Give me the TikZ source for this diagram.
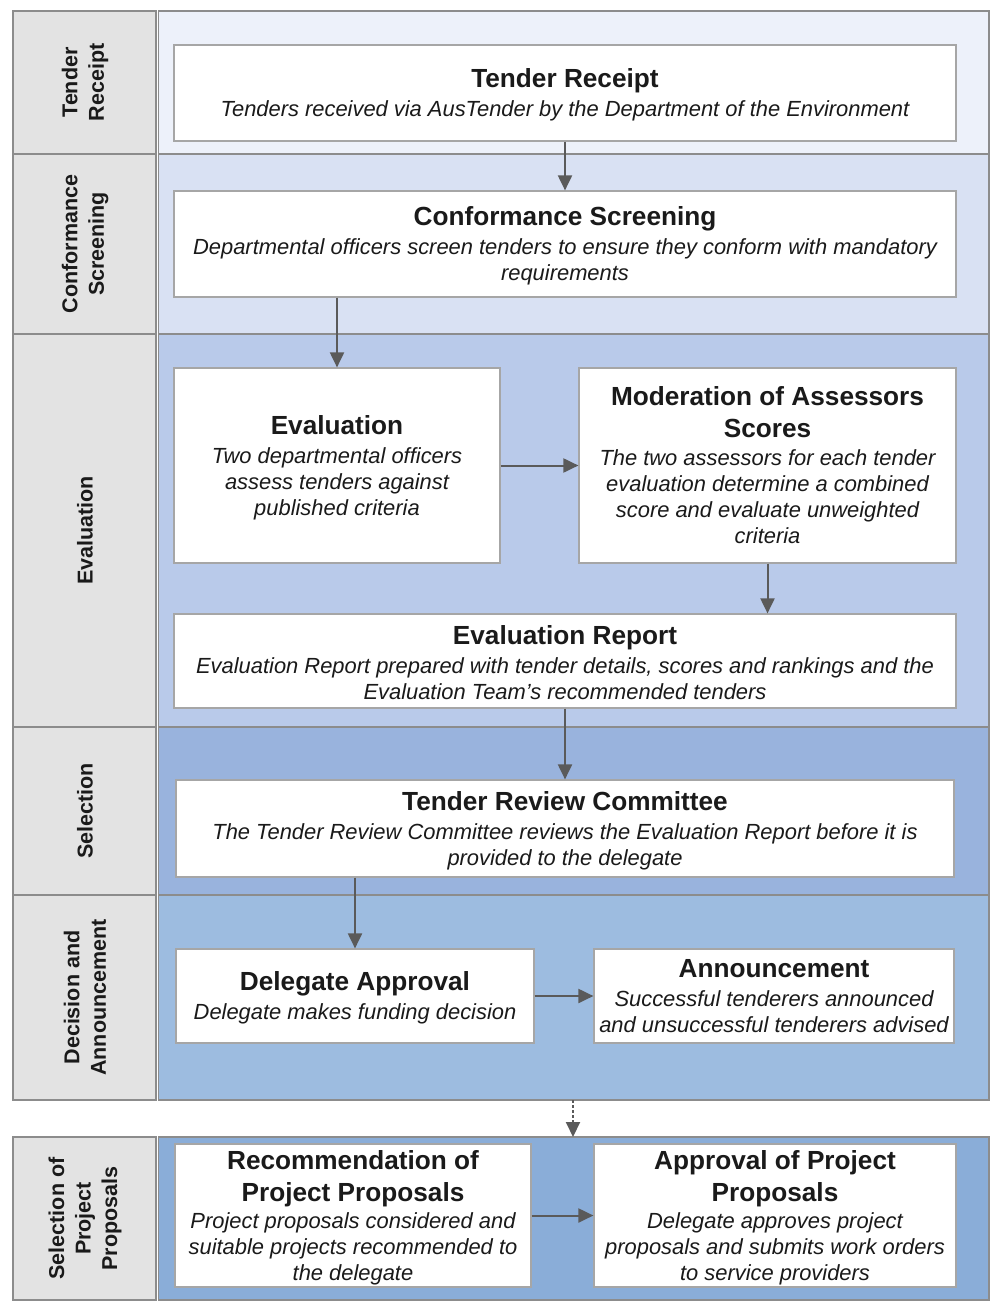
\documentclass[tikz,border=0pt]{standalone}
\usepackage{fontspec}
\setmainfont{Liberation Sans}
\usetikzlibrary{arrows.meta}

\definecolor{laneA}{HTML}{EDF1FA}
\definecolor{laneB}{HTML}{D9E1F3}
\definecolor{laneC}{HTML}{B9CAEA}
\definecolor{laneD}{HTML}{99B3DD}
\definecolor{laneE}{HTML}{9DBCE0}
\definecolor{laneF}{HTML}{8AADD8}
\definecolor{lblfill}{HTML}{E3E3E3}
\definecolor{laneline}{HTML}{8C8C8C}
\definecolor{boxline}{HTML}{A6A6A6}
\definecolor{arrowgray}{HTML}{5A5A5A}
\definecolor{txt}{HTML}{1A1A1A}

\newcommand{\bodyfont}{\fontsize{21.9}{26}\selectfont\itshape}
\newcommand{\lanefont}{\fontsize{21.5}{26.5}\selectfont\bfseries}
\newcommand{\boxtitle}[1]{{\fontsize{26.2}{32}\selectfont\bfseries\upshape #1}}
\newcommand{\toptitle}[1]{\rule{0pt}{23pt}\boxtitle{#1}}
\newcommand{\lastdepth}{\rule[-4.6pt]{0pt}{1pt}}

\tikzset{
	procbox/.style={draw=boxline, fill=white, line width=1.2pt, align=center, text=txt, font=\bodyfont, inner sep=0pt},
	lanelbl/.style={rotate=90, align=center, text=txt, font=\lanefont, inner sep=0pt},
	lanebox/.style={draw=laneline, line width=1.2pt},
	flow/.style={draw=arrowgray, line width=2pt, -{Triangle[length=15pt,width=14pt]}},
}

\begin{document}
\begin{tikzpicture}[x=1pt, y=-1pt]

	\useasboundingbox (0,0) rectangle (1004,1313);

	%LANES
	\filldraw[lanebox, fill=lblfill] (13,11) rectangle (156,154);
	\filldraw[lanebox, fill=laneA] (158.5,11) rectangle (989,154);
	\filldraw[lanebox, fill=lblfill] (13,154) rectangle (156,334);
	\filldraw[lanebox, fill=laneB] (158.5,154) rectangle (989,334);
	\filldraw[lanebox, fill=lblfill] (13,334) rectangle (156,727);
	\filldraw[lanebox, fill=laneC] (158.5,334) rectangle (989,727);
	\filldraw[lanebox, fill=lblfill] (13,727) rectangle (156,895);
	\filldraw[lanebox, fill=laneD] (158.5,727) rectangle (989,895);
	\filldraw[lanebox, fill=lblfill] (13,895) rectangle (156,1100);
	\filldraw[lanebox, fill=laneE] (158.5,895) rectangle (989,1100);
	\filldraw[lanebox, fill=lblfill] (13,1137) rectangle (156,1300);
	\filldraw[lanebox, fill=laneF] (158.5,1137) rectangle (989,1300);

	%LANE LABELS
	\node[lanelbl] (lblreceipt) at (85,82.5) {Tender\\Receipt};
	\node[lanelbl] (lblscreen) at (85,244) {Conformance\\Screening};
	\node[lanelbl] (lbleval) at (85,530.5) {Evaluation};
	\node[lanelbl] (lblselect) at (85,811) {Selection};
	\node[lanelbl] (lbldecide) at (85,997.5) {Decision and\\Announcement};
	\node[lanelbl] (lblproject) at (85,1218.5) {Selection of\\Project\\Proposals};

	%BOXES
	\node[procbox, minimum width=782, minimum height=96] (receipt) at (565,93)
		{\toptitle{Tender Receipt}\\[3pt]
		Tenders received via AusTender by the Department of the Environment};
	\node[procbox, minimum width=782, minimum height=106] (screening) at (565,244)
		{\toptitle{Conformance Screening}\\[3pt]
		Departmental officers screen tenders to ensure they conform with mandatory\\
		requirements};
	\node[procbox, minimum width=326, minimum height=195] (evaluation) at (337,465.5)
		{\toptitle{Evaluation}\\[3pt]
		Two departmental officers\\
		assess tenders against\\
		published criteria};
	\node[procbox, minimum width=377, minimum height=195] (moderation) at (767.5,465.5)
		{\toptitle{Moderation of Assessors}\\[6pt]
		\boxtitle{Scores}\\[2pt]
		The two assessors for each tender\\
		evaluation determine a combined\\
		score and evaluate unweighted\\
		criteria\lastdepth};
	\node[procbox, minimum width=782, minimum height=94] (report) at (565,661)
		{\toptitle{Evaluation Report}\\[3pt]
		Evaluation Report prepared with tender details, scores and rankings and the\\
		Evaluation Team’s recommended tenders};
	\node[procbox, minimum width=778, minimum height=97] (review) at (565,828.5)
		{\toptitle{Tender Review Committee}\\[3pt]
		The Tender Review Committee reviews the Evaluation Report before it is\\
		provided to the delegate};
	\node[procbox, minimum width=358, minimum height=94] (approval) at (355,996)
		{\toptitle{Delegate Approval}\\[3pt]
		Delegate makes funding decision};
	\node[procbox, minimum width=360, minimum height=94] (announce) at (774,996)
		{\toptitle{Announcement}\\[3pt]
		Successful tenderers announced\\
		and unsuccessful tenderers advised\lastdepth};
	\node[procbox, minimum width=356, minimum height=143] (recommend) at (353,1215.5)
		{\toptitle{Recommendation of}\\[6pt]
		\boxtitle{Project Proposals}\\[1pt]
		Project proposals considered and\\
		suitable projects recommended to\\
		the delegate};
	\node[procbox, minimum width=362, minimum height=143] (projapproval) at (775,1215.5)
		{\toptitle{Approval of Project}\\[6pt]
		\boxtitle{Proposals}\\[1pt]
		Delegate approves project\\
		proposals and submits work orders\\
		to service providers};

	\coordinate (decidebottom) at (573,1100);
	\coordinate (projecttop) at (573,1137);

	%ARROWS
	\draw[flow] (receipt) -- (screening);
	\draw[flow] (evaluation.north |- screening.south) -- (evaluation.north);
	\draw[flow] (evaluation) -- (moderation);
	\draw[flow] (moderation.south) -- (moderation.south |- report.north);
	\draw[flow] (report) -- (review);
	\draw[flow] (approval.north |- review.south) -- (approval.north);
	\draw[flow] (approval) -- (announce);
	\draw[flow, dash pattern=on 3pt off 2pt] (decidebottom) -- (projecttop);
	\draw[flow] (recommend) -- (projapproval);

\end{tikzpicture}
\end{document}
